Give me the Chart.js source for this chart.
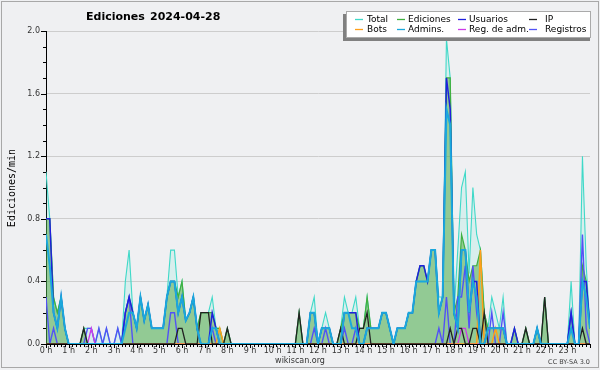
<!DOCTYPE html>
<html><head><meta charset="utf-8">
<script src="https://cdn.jsdelivr.net/npm/chart.js@4.4.1/dist/chart.umd.min.js"></script>
<style>html,body{margin:0;padding:0;background:#eff0f2;}#wrap{width:600px;height:370px;}</style>
</head><body><div id="wrap"><canvas id="c" width="600" height="370"></canvas></div>
<script>
// ---- data: one value per 10-minute bin (0:00 ... 24:00) ----
const hourLabels = ['0 h','1 h','2 h','3 h','4 h','5 h','6 h','7 h','8 h','9 h','10 h','11 h','12 h','13 h','14 h','15 h','16 h','17 h','18 h','19 h','20 h','21 h','22 h','23 h'];
const yTickLabels = ['0.0','0.4','0.8','1.2','1.6','2.0'];

const total = [
 1.1,0.8,0.3,0.2,0.3,0.1,  0,0,0,0,0.1,0.1,  0.1,0,0.1,0,0.1,0,  0,0.1,0,0.4,0.6,0.2,
 0.1,0.3,0.15,0.25,0.1,0.1,  0.1,0.1,0.3,0.6,0.6,0.3,  0.4,0.15,0.2,0.3,0.1,0.2,  0.2,0.2,0.3,0.1,0.1,0,
 0.1,0,0,0,0,0,  0,0,0,0,0,0,  0,0,0,0,0,0,  0,0.2,0,0,0.2,0.3,
 0,0.1,0.2,0.1,0,0,  0.1,0.3,0.2,0.2,0.3,0.1,  0.1,0.3,0.1,0.1,0.1,0.2,  0.2,0.1,0,0.1,0.1,0.1,
 0.2,0.2,0.4,0.5,0.5,0.4,  0.6,0.6,0.3,0.3,1.95,1.7,  0.2,0.6,1.0,1.1,0.45,1.0,  0.7,0.6,0.2,0.1,0.3,0.2,
 0.1,0.3,0,0,0.1,0,  0,0.1,0,0,0.1,0,  0.3,0,0,0,0,0,  0,0.4,0,0,1.2,0.5,
 0.1];
const ediciones = [
 0.8,0.8,0.3,0.2,0.3,0.1,  0,0,0,0,0.1,0,  0,0,0,0,0,0,  0,0,0,0.2,0.3,0.2,
 0.1,0.3,0.15,0.25,0.1,0.1,  0.1,0.1,0.3,0.4,0.4,0.3,  0.4,0.15,0.2,0.3,0.1,0.2,  0.2,0.2,0.2,0.1,0.1,0,
 0.1,0,0,0,0,0,  0,0,0,0,0,0,  0,0,0,0,0,0,  0,0.2,0,0,0.2,0.2,
 0,0.1,0.1,0.1,0,0,  0.1,0.2,0.2,0.2,0.2,0.1,  0.1,0.3,0.1,0.1,0.1,0.2,  0.2,0.1,0,0.1,0.1,0.1,
 0.2,0.2,0.4,0.5,0.5,0.4,  0.6,0.6,0.2,0.3,1.7,1.7,  0.2,0.3,0.7,0.6,0.4,0.5,  0.5,0.6,0.2,0.1,0.1,0.1,
 0.1,0.1,0,0,0.1,0,  0,0.1,0,0,0.1,0,  0.3,0,0,0,0,0,  0,0.2,0,0,0.5,0.4,
 0.1];
const usuarios = [
 0.8,0.8,0.2,0.1,0.3,0.1,  0,0,0,0,0,0,  0,0,0,0,0,0,  0,0,0,0.2,0.3,0.2,
 0.1,0.3,0.15,0.25,0.1,0.1,  0.1,0.1,0.3,0.4,0.4,0.2,  0.3,0.15,0.2,0.3,0.1,0,  0,0,0.2,0.1,0,0,
 0,0,0,0,0,0,  0,0,0,0,0,0,  0,0,0,0,0,0,  0,0,0,0,0.2,0.2,
 0,0.1,0.1,0.1,0,0,  0,0.2,0.2,0.2,0.2,0,  0,0.1,0.1,0.1,0.1,0.2,  0.2,0.1,0,0.1,0.1,0.1,
 0.2,0.2,0.4,0.5,0.5,0.4,  0.6,0.6,0.2,0.3,1.7,1.5,  0.2,0.1,0.6,0.6,0.2,0.4,  0.4,0,0,0.1,0.1,0.1,
 0.1,0.1,0,0,0.1,0,  0,0,0,0,0.1,0,  0,0,0,0,0,0,  0,0.2,0,0,0.4,0.4,
 0.1];
const ip = [
 0,0,0,0,0,0,  0,0,0,0,0.1,0,  0,0,0,0,0,0,  0,0,0,0,0,0,
 0,0,0,0,0,0,  0,0,0,0,0,0.1,  0.1,0,0,0,0,0.2,  0.2,0.2,0,0,0,0,
 0.1,0,0,0,0,0,  0,0,0,0,0,0,  0,0,0,0,0,0,  0,0.2,0,0,0,0,
 0,0,0,0,0,0,  0.1,0,0,0,0,0.1,  0.1,0.2,0,0,0,0,  0,0,0,0,0,0,
 0,0,0,0,0,0,  0,0,0,0,0,0.1,  0,0.1,0.1,0,0,0.1,  0.1,0,0.2,0,0,0,
 0,0,0,0,0,0,  0,0.1,0,0,0,0,  0.3,0,0,0,0,0,  0,0,0,0,0.1,0,
 0];
const bots = [
 0,0,0,0,0,0,  0,0,0,0,0,0,  0,0,0,0,0,0,  0,0,0,0,0,0,
 0,0,0,0,0,0,  0,0,0,0,0,0,  0,0,0,0,0,0,  0,0,0,0,0.1,0,
 0,0,0,0,0,0,  0,0,0,0,0,0,  0,0,0,0,0,0,  0,0,0,0,0,0,
 0,0,0,0,0,0,  0,0,0,0,0,0,  0,0,0,0,0,0,  0,0,0,0,0,0,
 0,0,0,0,0,0,  0,0,0,0,0,0,  0,0,0,0,0,0,  0,0.6,0,0,0,0.1,
 0,0,0,0,0,0,  0,0,0,0,0,0,  0,0,0,0,0,0,  0,0,0,0,0,0,
 0];
const admins = [
 0.7,0.5,0.2,0.1,0.3,0.1,  0,0,0,0,0,0,  0,0,0,0,0,0,  0,0,0,0.1,0.2,0.2,
 0.1,0.3,0.15,0.25,0.1,0.1,  0.1,0.1,0.3,0.4,0.4,0.2,  0.3,0.15,0.2,0.3,0.1,0,  0,0,0.1,0.1,0,0,
 0,0,0,0,0,0,  0,0,0,0,0,0,  0,0,0,0,0,0,  0,0,0,0,0.2,0.2,
 0,0.1,0.1,0.1,0,0,  0,0.2,0.2,0.1,0.1,0,  0,0.1,0.1,0.1,0.1,0.2,  0.2,0.1,0,0.1,0.1,0.1,
 0.2,0.2,0.4,0.4,0.4,0.4,  0.6,0.6,0.2,0.3,1.5,1.4,  0.2,0.1,0.6,0.6,0.2,0.4,  0.3,0,0,0.1,0.1,0.1,
 0.1,0.1,0,0,0,0,  0,0,0,0,0.1,0,  0,0,0,0,0,0,  0,0.1,0,0,0.4,0.3,
 0.1];
const regAdm = [
 0,0,0,0,0,0,  0,0,0,0,0,0,  0.1,0,0,0,0,0,  0,0,0,0,0,0,
 0,0,0,0,0,0,  0,0,0,0,0,0,  0,0,0,0,0,0,  0,0,0,0,0,0,
 0,0,0,0,0,0,  0,0,0,0,0,0,  0,0,0,0,0,0,  0,0,0,0,0,0,
 0,0,0,0,0,0,  0,0,0,0,0,0,  0,0,0,0,0,0,  0,0,0,0,0,0,
 0,0,0,0,0,0,  0,0,0,0,0,0,  0,0,0.1,0.1,0,0,  0,0,0,0,0,0,
 0,0,0,0,0,0,  0,0,0,0,0,0,  0,0,0,0,0,0,  0,0,0,0,0,0,
 0];
const registros = [
 0.3,0,0.1,0,0,0,  0,0,0,0,0,0.1,  0.1,0,0.1,0,0.1,0,  0,0.1,0,0.2,0.3,0,
 0,0,0,0,0,0,  0,0,0,0.2,0.2,0,  0,0,0,0,0,0,  0,0,0.1,0,0,0,
 0,0,0,0,0,0,  0,0,0,0,0,0,  0,0,0,0,0,0,  0,0,0,0,0,0.1,
 0,0,0.1,0,0,0,  0,0.1,0,0,0.1,0,  0,0,0,0,0,0,  0,0,0,0,0,0,
 0,0,0,0,0,0,  0,0,0.1,0,0.3,0,  0,0.3,0.3,0.5,0.1,0.5,  0.2,0,0,0,0.2,0,
 0,0.2,0,0,0,0,  0,0,0,0,0,0,  0,0,0,0,0,0,  0,0.2,0,0,0.7,0.1,
 0];

// time of each bin in hours (10-minute bins)
const binHours = total.map((_, i) => i / 6);
const toPts = arr => arr.map((v, i) => ({x: binHours[i], y: v}));

const FONT = '"DejaVu Sans", "Liberation Sans", sans-serif';

const series = [
  {label:'Total',        data: total,     color:'#3fd9c8', width:1.1, fill:'rgba(64,224,208,0.13)', order:8},
  {label:'Ediciones',    data: ediciones, color:'#3fb03f', width:1.2, fill:'rgba(75,165,60,0.5)',   order:7},
  {label:'Usuarios',     data: usuarios,  color:'#1f1fdd', width:1.5, fill:null, order:2},
  {label:'IP',           data: ip,        color:'#222222', width:1.3, fill:null, order:3},
  {label:'Bots',         data: bots,      color:'#ff9f1a', width:1.5, fill:null, order:4},
  {label:'Admins.',      data: admins,    color:'#1aa8dc', width:2,   fill:null, order:1},
  {label:'Reg. de adm.', data: regAdm,    color:'#cc3be8', width:1.3, fill:null, order:5},
  {label:'Registros',    data: registros, color:'#5252f5', width:1.4, fill:null, order:6}
];

const datasets = series.map(s => ({
  label: s.label,
  data: toPts(s.data),
  borderColor: s.color,
  borderWidth: s.width,
  backgroundColor: s.fill || 'rgba(0,0,0,0)',
  fill: s.fill ? 'origin' : false,
  pointRadius: 0,
  tension: 0,
  order: s.order
}));

const decorPlugin = {
  id: 'decor',
  beforeDraw(chart) {
    const c = chart.ctx;
    c.save();
    c.fillStyle = '#eff0f2';
    c.fillRect(0, 0, chart.width, chart.height);
    c.restore();
  },
  afterDraw(chart) {
    const c = chart.ctx;
    const xs = chart.scales.x, ys = chart.scales.y;
    const a = chart.chartArea;
    c.save();
    // axis tick marks
    c.strokeStyle = '#000'; c.lineWidth = 1;
    c.beginPath();
    for (let k = 0; k <= 20; k++) {
      const y = Math.round(ys.getPixelForValue(k / 10)) + 0.5;
      const len = (k % 4 === 0) ? 5 : 3;
      c.moveTo(a.left - len, y); c.lineTo(a.left, y);
    }
    for (let m = 0; m <= 144; m++) {
      const x = Math.round(xs.getPixelForValue(m / 6)) + 0.5;
      const len = (m % 6 === 0) ? 4 : 3;
      c.moveTo(x, a.bottom); c.lineTo(x, a.bottom + len);
    }
    c.stroke();
    // title
    c.fillStyle = '#000';
    c.textBaseline = 'middle';
    c.font = 'bold 11px ' + FONT;
    c.textAlign = 'left';
    c.fillText('Ediciones', 86, 17);
    c.fillText('2024-04-28', 150, 17);
    // y title
    c.save();
    c.translate(12, 188);
    c.rotate(-Math.PI / 2);
    c.textAlign = 'center';
    c.font = '10px "DejaVu Sans Mono", monospace';
    c.fillText('Ediciones/min', 0, 0);
    c.restore();
    // footer
    c.fillStyle = '#333';
    c.font = '8px ' + FONT;
    c.textAlign = 'center';
    c.fillText('wikiscan.org', 300, 361);
    c.font = '6.5px ' + FONT;
    c.textAlign = 'right';
    c.fillStyle = '#444';
    c.fillText('CC BY-SA 3.0', 590, 362);
    // legend
    c.fillStyle = '#808080';
    c.fillRect(343, 14, 247, 27);
    c.fillStyle = '#ffffff';
    c.fillRect(346, 11, 245, 27);
    c.strokeStyle = '#aaaaaa';
    c.strokeRect(346.5, 11.5, 244, 26);
    const order = ['Total','Ediciones','Usuarios','IP','Bots','Admins.','Reg. de adm.','Registros'];
    const lineX = [355, 397, 458, 529];
    const textX = [367, 408, 469, 545];
    const rowY = [19, 29];
    c.font = '9px ' + FONT;
    c.textAlign = 'left';
    order.forEach((lab, idx) => {
      const ds = chart.data.datasets.find(d => d.label === lab);
      const col = idx % 4, row = Math.floor(idx / 4);
      const y = rowY[row];
      c.strokeStyle = ds.borderColor;
      c.lineWidth = 1.3;
      c.beginPath();
      c.moveTo(lineX[col], y + 0.5); c.lineTo(lineX[col] + 8, y + 0.5);
      c.stroke();
      c.fillStyle = '#000';
      c.fillText(lab, textX[col], y + 1);
    });
    // outer frame
    c.strokeStyle = '#a8a8a8'; c.lineWidth = 1;
    c.strokeRect(1.5, 1.5, 597, 366);
    c.restore();
  }
};

new Chart(document.getElementById('c'), {
  type: 'line',
  data: { datasets },
  options: {
    responsive: false,
    animation: false,
    devicePixelRatio: 1,
    layout: { padding: { top: 31, right: 10, left: 0, bottom: 0 } },
    plugins: { legend: { display: false }, tooltip: { enabled: false }, title: { display: false } },
    scales: {
      x: {
        type: 'linear', min: 0, max: 24,
        afterFit(s) { s.height = 26; },
        grid: { display: false, drawTicks: false },
        border: { display: true, color: '#000', width: 1 },
        ticks: {
          stepSize: 1, autoSkip: false, maxRotation: 0, padding: 2,
          color: '#333', font: { family: FONT, size: 8 },
          callback: v => (Number.isInteger(v) && v < hourLabels.length) ? hourLabels[v] : ''
        }
      },
      y: {
        min: 0, max: 2,
        afterFit(s) { s.width = 46; },
        grid: {
          drawTicks: false,
          color: ctx => { const t = Math.round(ctx.tick.value * 10); return (t > 0 && t % 4 === 0) ? '#cdcdcd' : 'rgba(0,0,0,0)'; }
        },
        border: { display: true, color: '#000', width: 1 },
        ticks: {
          stepSize: 0.1, autoSkip: false, padding: 6,
          color: '#333', font: { family: FONT, size: 8 },
          callback: v => { const t = Math.round(v * 10); return t % 4 === 0 ? yTickLabels[t / 4] : ''; }
        }
      }
    }
  },
  plugins: [decorPlugin]
});
</script></body></html>
